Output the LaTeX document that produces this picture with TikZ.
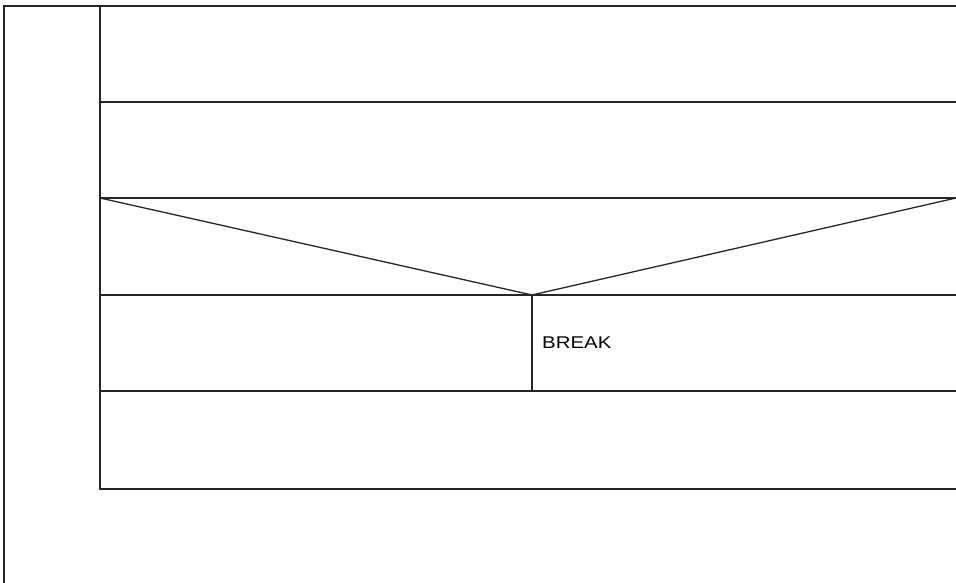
\documentclass[tikz,border=0pt]{standalone}
\usepackage{fontspec}
\setmainfont{Liberation Sans}
\usetikzlibrary{positioning}

\begin{document}
\begin{tikzpicture}[
    x=1pt, y=-1pt,
    frame/.style={draw=black!85, line width=1.3pt},
    label/.style={anchor=west, inner sep=0pt, font=\fontsize{17}{20}\selectfont, xscale=1.2, text=black}
]
    \useasboundingbox (0,0) rectangle (956,583);

    % Outer block
    \coordinate (outer) at (4,6);
    \draw[frame] (outer |- 0,583) -- (outer) -- (956,6);

    % Loop body rows
    \coordinate (bodytop) at (100,6);
    \coordinate (bodybot) at (100,489);
    \draw[frame] (bodytop) -- (bodybot) -- (956,489);
    \foreach \y in {102,198,295,391}
        \draw[frame] (100,\y) -- (956,\y);

    % Condition
    \coordinate (condl) at (100,198);
    \coordinate (condr) at (956,198);
    \coordinate (tip) at (532,295);
    \draw[frame] (condl) -- (tip) -- (condr);

    % Branches
    \coordinate (split) at (532,391);
    \draw[frame] (tip) -- (split);
    \node[label] (brk) at (542,343) {BREAK};
\end{tikzpicture}
\end{document}
